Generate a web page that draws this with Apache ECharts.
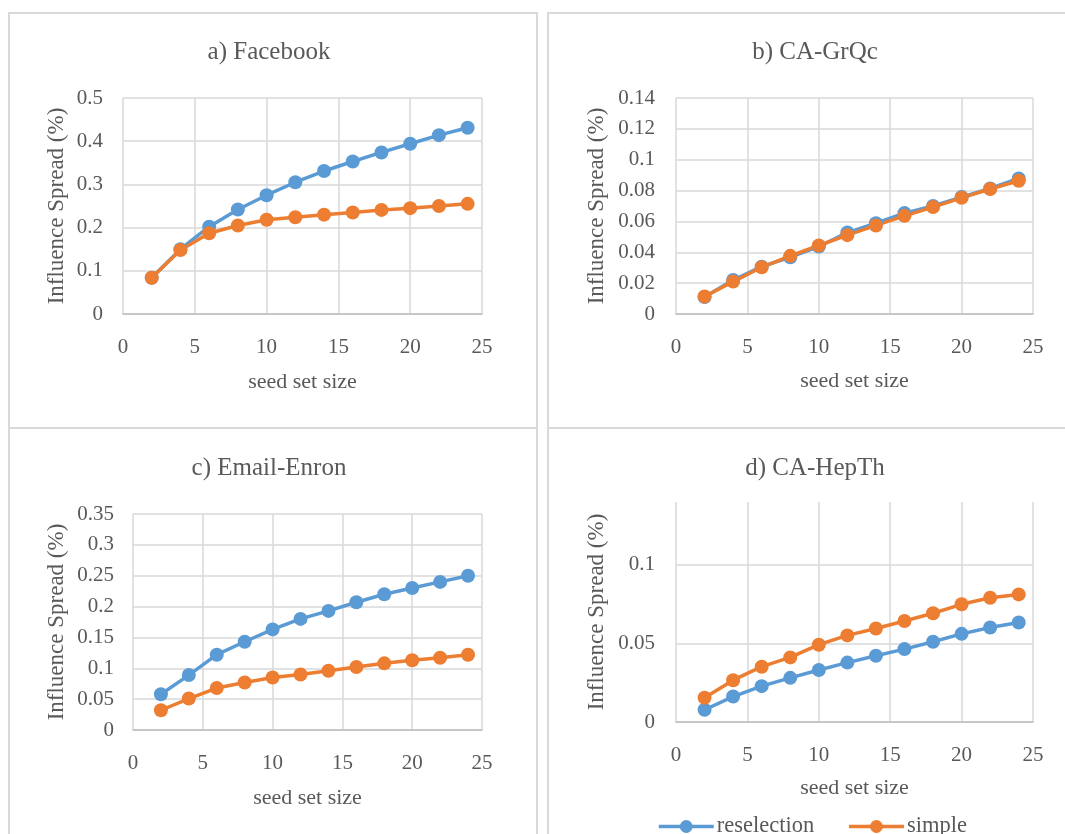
<!DOCTYPE html>
<html lang="en">

<head>
    <meta charset="UTF-8">
    <title>Influence spread</title>
    <script src="https://cdn.jsdelivr.net/npm/echarts@6.0.0/dist/echarts.min.js"></script>
</head>
<style>
    html, body {
        margin: 0;
        padding: 0;
        background-color: #ffffff;
    }

    #main {
        width: 1065px;
        height: 834px;
    }
</style>

<body>
    <div id="main"></div>

    <script>
        // seed set sizes (x values shared by every panel)
        let seedSizes = [2, 4, 6, 8, 10, 12, 14, 16, 18, 20, 22, 24];

        // a) Facebook
        let facebookReselection = [0.084, 0.150, 0.202, 0.242, 0.275, 0.305, 0.331, 0.353, 0.374, 0.394, 0.414, 0.431];
        let facebookSimple = [0.084, 0.148, 0.187, 0.205, 0.218, 0.224, 0.230, 0.235, 0.241, 0.245, 0.250, 0.255];

        // b) CA-GrQc
        let grqcReselection = [0.011, 0.022, 0.0307, 0.0368, 0.0437, 0.0528, 0.0589, 0.0654, 0.0700, 0.0758, 0.0814, 0.0879];
        let grqcSimple = [0.0113, 0.021, 0.0303, 0.0377, 0.0444, 0.0511, 0.0574, 0.0636, 0.0693, 0.0753, 0.0810, 0.0864];

        // c) Email-Enron
        let enronReselection = [0.058, 0.089, 0.122, 0.143, 0.163, 0.180, 0.193, 0.207, 0.220, 0.230, 0.240, 0.250];
        let enronSimple = [0.032, 0.051, 0.068, 0.077, 0.085, 0.090, 0.096, 0.102, 0.108, 0.113, 0.117, 0.122];

        // d) CA-HepTh
        let hepthReselection = [0.0078, 0.0162, 0.0228, 0.0281, 0.0331, 0.0378, 0.0422, 0.0464, 0.0511, 0.0561, 0.0601, 0.0633];
        let hepthSimple = [0.0154, 0.0266, 0.0352, 0.0411, 0.0492, 0.0551, 0.0595, 0.0643, 0.0692, 0.0749, 0.0791, 0.0812];

        let titles = ['a) Facebook', 'b) CA-GrQc', 'c) Email-Enron', 'd) CA-HepTh'];
        let seriesNames = ['reselection', 'simple'];
        let xTicks = { min: 0, max: 25, interval: 5 };
        let yTicks = [
            { max: 0.5, interval: 0.1 },
            { max: 0.14, interval: 0.02 },
            { max: 0.35, interval: 0.05 },
            { max: 0.14, interval: 0.05 }
        ];
        let panelValues = [
            [facebookReselection, facebookSimple],
            [grqcReselection, grqcSimple],
            [enronReselection, enronSimple],
            [hepthReselection, hepthSimple]
        ];

        let blue = '#5b9bd5';
        let orange = '#ed7d31';
        let textColor = '#595959';
        let gridColor = '#d9d9d9';
        let font = '"Liberation Serif", "Times New Roman", serif';

        // layout of the four panels
        let grids = [
            { left: 123, top: 98, width: 359, height: 216 },
            { left: 676, top: 98, width: 357, height: 216 },
            { left: 133, top: 514, width: 349, height: 216 },
            { left: 676, top: 502, width: 357, height: 220 }
        ];
        let titlePos = [[264, 35], [810, 35], [264, 451], [810, 451]];
        let yNameGap = [55, 68, 65, 68];
        let yLabelMargin = [20, 21, 19, 21];
        let xNameGap = [57, 56, 57, 55];

        let myChart = echarts.init(document.getElementById('main'));

        let toPoints = values => seedSizes.map((s, i) => [s, values[i]]);

        let option = {
            animation: false,
            backgroundColor: '#ffffff',
            textStyle: { fontFamily: font },
            graphic: [
                { type: 'rect', shape: { x: 9, y: 13, width: 528, height: 415 }, style: { fill: 'none', stroke: gridColor, lineWidth: 2 } },
                { type: 'rect', shape: { x: 548, y: 13, width: 530, height: 415 }, style: { fill: 'none', stroke: gridColor, lineWidth: 2 } },
                { type: 'rect', shape: { x: 9, y: 428, width: 528, height: 430 }, style: { fill: 'none', stroke: gridColor, lineWidth: 2 } },
                { type: 'rect', shape: { x: 548, y: 428, width: 530, height: 430 }, style: { fill: 'none', stroke: gridColor, lineWidth: 2 } }
            ],
            title: titles.map((t, i) => ({
                text: t,
                left: titlePos[i][0],
                top: titlePos[i][1],
                textAlign: 'center',
                textStyle: { fontFamily: font, fontSize: 25, fontWeight: 'normal', color: textColor }
            })),
            legend: {
                data: seriesNames,
                left: 652,
                top: 810,
                itemWidth: 55,
                itemHeight: 16,
                itemGap: 33,
                lineStyle: { width: 3.5 },
                textStyle: { fontFamily: font, fontSize: 22.5, color: textColor, padding: [0, 0, 0, -2] }
            },
            grid: grids,
            xAxis: grids.map((g, i) => ({
                type: 'value',
                gridIndex: i,
                min: xTicks.min,
                max: xTicks.max,
                interval: xTicks.interval,
                name: 'seed set size',
                nameLocation: 'middle',
                nameGap: xNameGap[i],
                nameTextStyle: { fontFamily: font, fontSize: 22, color: textColor },
                axisLine: { show: true, lineStyle: { color: '#bfbfbf', width: 1.5 } },
                axisTick: { show: false },
                axisLabel: { margin: 23, fontFamily: font, fontSize: 21, color: textColor },
                splitLine: { show: true, lineStyle: { color: gridColor, width: 1.5 } }
            })),
            yAxis: grids.map((g, i) => ({
                type: 'value',
                gridIndex: i,
                min: 0,
                max: yTicks[i].max,
                interval: yTicks[i].interval,
                name: 'Influence Spread (%)',
                nameLocation: 'middle',
                nameGap: yNameGap[i],
                nameTextStyle: { fontFamily: font, fontSize: 23, color: textColor },
                axisLine: { show: false },
                axisTick: { show: false },
                axisLabel: {
                    margin: yLabelMargin[i],
                    fontFamily: font,
                    fontSize: 21,
                    color: textColor,
                    showMaxLabel: i !== 3
                },
                splitLine: { show: true, showMaxLine: i !== 3, lineStyle: { color: gridColor, width: 1.5 } }
            })),
            series: []
        };

        panelValues.forEach((pair, i) => {
            pair.forEach((values, k) => {
                option.series.push({
                    name: seriesNames[k],
                    type: 'line',
                    xAxisIndex: i,
                    yAxisIndex: i,
                    data: toPoints(values),
                    symbol: 'circle',
                    symbolSize: 14,
                    color: k === 0 ? blue : orange,
                    lineStyle: { width: 3.5, color: k === 0 ? blue : orange },
                    itemStyle: { color: k === 0 ? blue : orange }
                });
            });
        });

        myChart.setOption(option);
    </script>

</body>

</html>
